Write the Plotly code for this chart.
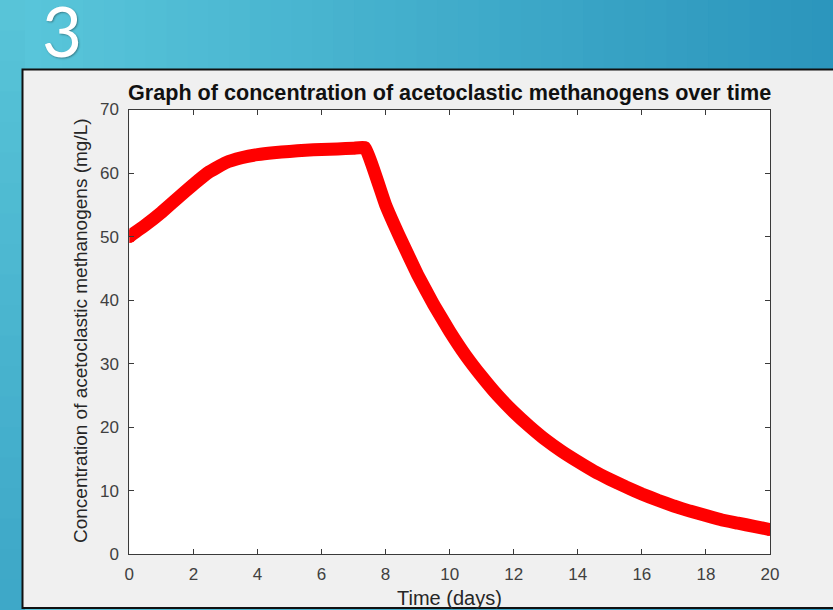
import plotly.graph_objects as go

# ---- data ----
time_days = [0, 0.5, 1, 1.5, 2, 2.5, 3, 3.5, 4, 4.5, 5, 5.5, 6, 6.5, 7, 7.36,
             8, 8.5, 9, 9.5, 10, 10.5, 11, 11.5, 12, 12.5, 13, 13.5, 14,
             14.5, 15, 15.5, 16, 16.5, 17, 17.5, 18, 18.5, 19, 19.5, 20]
conc = [50.0, 51.8, 53.8, 56.0, 58.2, 60.2, 61.6, 62.4, 62.9, 63.2, 63.4, 63.6,
        63.7, 63.8, 63.9, 64.0, 55.0, 49.3, 44.0, 39.3, 35.1, 31.3, 28.0,
        25.0, 22.4, 20.1, 18.0, 16.2, 14.6, 13.1, 11.8, 10.6, 9.5, 8.5, 7.6,
        6.8, 6.1, 5.4, 4.9, 4.4, 3.9]
x_ticks = [0, 2, 4, 6, 8, 10, 12, 14, 16, 18, 20]
y_ticks = [0, 10, 20, 30, 40, 50, 60, 70]

W, H = 833, 610
FONT = "Liberation Sans, Arial, sans-serif"
AX = "#3a3a3a"
TICKC = "#404040"

fig = go.Figure()
fig.add_trace(go.Scatter(x=time_days, y=conc, mode="lines",
                         line=dict(color="#ff0000", width=13, shape="spline", smoothing=0.3),
                         showlegend=False, hoverinfo="skip"))
# round end caps at the first and last data points
fig.add_trace(go.Scatter(x=[time_days[0], time_days[-1]], y=[conc[0], conc[-1]],
                         mode="markers", marker=dict(color="#ff0000", size=13, line=dict(width=0)),
                         showlegend=False, hoverinfo="skip"))

shapes = []
# teal gradient background (vertical strips)
c0 = (0x5a, 0xc7, 0xdb)
c1 = (0x2c, 0x96, 0xbd)
n = 40
for i in range(n):
    f = i / (n - 1)
    c = tuple(int(c0[k] + (c1[k] - c0[k]) * f) for k in range(3))
    shapes.append(dict(type="rect", xref="paper", yref="paper",
                       x0=i / n, x1=(i + 1) / n + 0.002, y0=0, y1=1,
                       fillcolor="rgb(%d,%d,%d)" % c, line=dict(width=0), layer="below"))
# left strip slightly darker toward bottom
for i in range(20):
    f = i / 19
    a, b = (0x58, 0xc4, 0xd8), (0x3e, 0xa8, 0xc8)
    c = tuple(int(a[k] + (b[k] - a[k]) * f) for k in range(3))
    shapes.append(dict(type="rect", xref="paper", yref="paper",
                       x0=0, x1=0.03, y0=1 - (i + 1) / 20 - 0.002, y1=1 - i / 20,
                       fillcolor="rgb(%d,%d,%d)" % c, line=dict(width=0), layer="below"))
# light gray panel with black border
shapes.append(dict(type="rect", xref="paper", yref="paper",
                   x0=22.5 / W, x1=845 / W, y0=1 - 608 / H, y1=1 - 69.5 / H,
                   fillcolor="#f0f0f0", line=dict(color="#111111", width=2), layer="below"))
# white axes background
shapes.append(dict(type="rect", xref="x domain", yref="y domain",
                   x0=0, x1=1, y0=0, y1=1,
                   fillcolor="#ffffff", line=dict(width=0), layer="below"))

fig.update_layout(
    width=W, height=H,
    margin=dict(l=0, r=0, t=0, b=0, autoexpand=False),
    paper_bgcolor="#4db8d0",
    plot_bgcolor="#ffffff",
    shapes=shapes,
    xaxis=dict(domain=[129.3 / W, 770 / W], range=[0, 20], tickvals=x_ticks,
               ticks="inside", ticklen=5, tickcolor=AX, showline=True, linecolor=AX,
               linewidth=1, mirror="allticks", showgrid=False, zeroline=False,
               ticklabelstandoff=4, automargin=False,
               tickfont=dict(family=FONT, size=17, color=TICKC)),
    yaxis=dict(domain=[1 - 554.3 / H, 1 - 109.5 / H], range=[0, 70], tickvals=y_ticks,
               ticks="inside", ticklen=5, tickcolor=AX, showline=True, linecolor=AX,
               linewidth=1, mirror="allticks", showgrid=False, zeroline=False,
               ticklabelstandoff=6, automargin=False,
               tickfont=dict(family=FONT, size=17, color=TICKC)),
    annotations=[
        dict(text="<b>Graph of concentration of acetoclastic methanogens over time</b>",
             xref="paper", yref="paper", x=449.6 / W, y=1 - 92 / H, showarrow=False,
             xanchor="center", yanchor="middle",
             font=dict(family=FONT, size=21.6, color="#111111")),
        dict(text="Concentration of acetoclastic methanogens (mg/L)",
             xref="paper", yref="paper", x=80 / W, y=1 - 331 / H, textangle=-90,
             showarrow=False, xanchor="center", yanchor="middle",
             font=dict(family=FONT, size=19, color="#262626")),
        dict(text="Time (days)", xref="paper", yref="paper", x=449.6 / W, y=1 - 598 / H,
             showarrow=False, xanchor="center", yanchor="middle",
             font=dict(family=FONT, size=20, color="#262626")),
        dict(text="3", xref="paper", yref="paper", x=62 / W, y=1 - 30 / H,
             showarrow=False, xanchor="center", yanchor="middle",
             font=dict(family="Lato, Open Sans, sans-serif", size=69, color="#ffffff",
                       weight=400, shadow="1px 1px 2px rgba(0,0,0,0.35)")),
    ],
)

fig.write_html("out.html",
               post_script="document.body.style.margin='0';document.body.style.overflow='hidden';")
